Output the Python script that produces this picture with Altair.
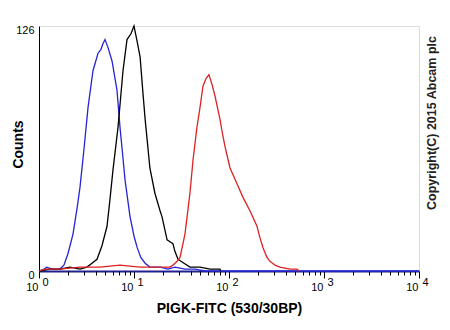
import altair as alt
import pandas as pd

# Isotype control (blue)
blue_x = [1.0, 1.13, 1.21, 1.37, 1.66, 1.83, 2.02, 2.28, 2.51, 2.70, 2.98, 3.28, 3.70, 4.18, 4.49,
          4.72, 4.95, 5.32, 5.87, 6.62, 7.12, 7.66, 8.04, 9.08, 10.0, 10.8, 11.8, 13.1, 14.7, 18.8,
          22.8, 27.0, 34.4, 43.9, 55.9, 10000]
blue_y = [0, 1, 2, 1, 1, 3, 9, 19, 32, 43, 63, 84, 103, 112, 114,
          117, 119, 115, 108, 93, 74, 58, 47, 28, 18, 12, 7, 4, 2, 2,
          1, 2, 1, 1, 0, 0]

# Unlabelled control (black)
black_x = [1.0, 1.31, 1.66, 2.12, 2.70, 3.20, 3.61, 4.08, 4.60, 5.20, 5.59, 6.01, 6.79, 7.66, 8.44,
           9.29, 10.0, 10.8, 11.6, 12.4, 13.1, 14.7, 16.6, 18.8, 19.7, 22.3, 23.9, 25.7, 27.0, 29.1,
           33.6, 38.8, 49.5, 63.1, 80.4, 82.0]
black_y = [0, 1, 1, 2, 1, 2, 4, 6, 13, 23, 37, 52, 74, 103, 119,
           122, 126, 118, 110, 92, 78, 53, 40, 31, 28, 16, 15, 14, 10, 6,
           4, 2, 2, 1, 1, 0]

# PIGK-FITC (red)
red_x = [1.0, 1.16, 1.66, 2.70, 4.39, 7.12, 11.6, 18.8, 23.9, 25.7, 28.4, 30.5, 34.4, 38.8, 41.8,
         46.0, 49.5, 53.2, 57.3, 61.5, 66.2, 71.2, 80.4, 84.4, 90.8, 102.5, 121, 140, 166, 197,
         212, 228, 251, 270, 305, 344, 439, 520, 546]
red_y = [0, 1, 1, 2, 2, 3, 2, 2, 2, 3, 5, 7, 19, 40, 57,
         74, 84, 95, 99, 101, 96, 90, 78, 72, 64, 53, 45, 38, 31, 23,
         17, 12, 7, 5, 3, 2, 1, 1, 0]

major_ticks = [1, 10, 100, 1000, 10000]
minor_ticks = [m * d for d in [1, 10, 100, 1000] for m in range(2, 10)]
y_ticks = [0, 126]

W, H = 380, 245
FONT = "Liberation Sans"

def df(xs, ys, name):
    return pd.DataFrame({"x": xs, "y": ys, "s": name})

xscale = alt.Scale(type="log", domain=[1, 10000], nice=False)
yscale = alt.Scale(domain=[0, 126], nice=False)

blue = alt.Chart(df(blue_x, blue_y, "blue")).mark_line(
    color="#2424d8", strokeWidth=1.3).encode(
    x=alt.X("x:Q", scale=xscale, axis=alt.Axis(
        orient="bottom", values=major_ticks, labelExpr="'10'", labelAlign="right", labelOffset=-1,
        labelPadding=3, tickSize=7, tickColor="black", domainColor="#202090", domainWidth=2,
        labelFont=FONT, labelFontSize=11, labelColor="black", grid=False, labelFlush=False,
        labelOverlap=False,
        title="PIGK-FITC (530/30BP)", titleFont=FONT, titleFontSize=14, titleFontWeight="bold",
        titleColor="black", titlePadding=9)),
    y=alt.Y("y:Q", scale=yscale, axis=alt.Axis(
        values=y_ticks, tickSize=0, labelPadding=5, labelOffset=4, labelFont=FONT,
        labelFontSize=11, labelColor="black", domainColor="black", grid=False, labelFlush=False,
        labelOverlap=False,
        title="Counts", titleFont=FONT, titleFontSize=14, titleFontWeight="bold",
        titleColor="black", titleX=-21, titleY=118, titleAngle=270, titleBaseline="middle")))

black = alt.Chart(df(black_x, black_y, "black")).mark_line(
    color="black", strokeWidth=1.3).encode(
    x=alt.X("x:Q", scale=xscale, axis=alt.Axis(
        orient="bottom", values=minor_ticks, labels=False, tickSize=4, tickColor="black",
        domain=False, grid=False, title=None)),
    y=alt.Y("y:Q", scale=yscale))

red = alt.Chart(df(red_x, red_y, "red")).mark_line(
    color="#dd2222", strokeWidth=1.3).encode(
    x=alt.X("x:Q", scale=xscale, axis=alt.Axis(
        orient="bottom", values=major_ticks,
        labelExpr="format(log(datum.value)/log(10)+0.001, 'd')",
        labelAlign="left", labelOffset=3, labelPadding=5, ticks=False, domain=False,
        labelFont=FONT, labelFontSize=11, labelColor="black", grid=False, labelFlush=False,
        labelOverlap=False, title=None)),
    y=alt.Y("y:Q", scale=yscale))

copyright_df = pd.DataFrame({"t": ["Copyright(C) 2015 Abcam plc"]})
copy = alt.Chart(copyright_df).mark_text(
    angle=270, font=FONT, fontSize=12.5, fontWeight="bold", color="#222222",
    align="center", baseline="middle").encode(
    text="t:N", x=alt.value(W + 13), y=alt.value(97))

chart = alt.layer(blue, black, red, copy).resolve_axis(x="independent").properties(
    width=W, height=H,
    autosize=alt.AutoSizeParams(type="none"),
    padding={"left": 31, "top": 18, "right": 23, "bottom": 51},
).configure_view(stroke="black", strokeWidth=1).configure(background="white")

chart.save("out.html", embed_options={"renderer": "svg", "actions": False})
